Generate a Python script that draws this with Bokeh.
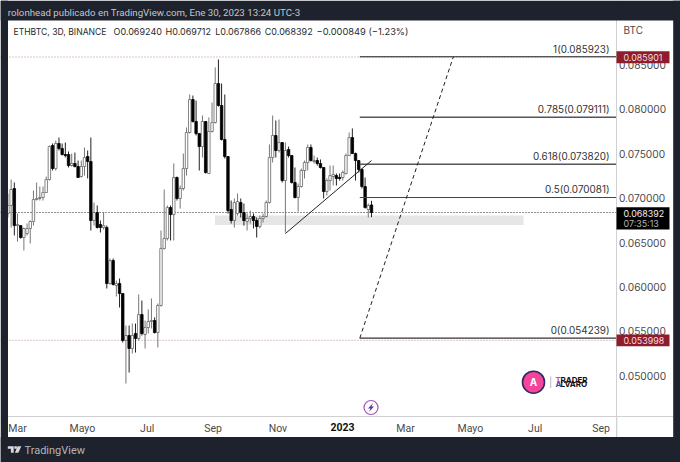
import pandas as pd
from bokeh.embed import file_html
from bokeh.resources import INLINE
from bokeh.plotting import figure
from bokeh.models import (Range1d, FixedTicker, NumeralTickFormatter, Label,
                          BoxAnnotation, PolyAnnotation)

# candle values in units of 0.00001 BTC
opens = [6828,6918,7109,6692,6692,6557,6602,6659,6738,6985,6997,7008,7064,7210,7593,7334,7616,7560,7492,7492,7368,7391,7357,7244,7357,7469,7413,6749,6839,6704,6670,6670,6039,6298,6017,6039,5927,5398,5454,5308,5476,5420,5690,5465,5544,5612,5623,5488,5792,6434,6546,6895,6816,7233,6997,7109,7334,7740,8111,7864,7728,7582,7864,7278,7751,7852,8291,8044,7661,7469,6873,6749,6828,6951,6839,6738,6771,6794,6749,6681,6771,6794,6951,7458,7706,7537,7627,7199,7548,7481,7177,7008,7132,7312,7402,7571,7413,7424,7391,7346,7075,7199,7244,7255,7233,7233,7278,7481,7683,7503,7424,7323,7132,6873,6924]
highs = [7053,7210,7177,6828,6692,6670,6715,6749,7087,7177,7132,7132,7244,7593,7616,7650,7683,7616,7627,7526,7503,7514,7424,7424,7571,7537,7683,6951,6918,6749,6839,6692,6321,6321,6073,6096,5927,5566,5566,5589,5589,5916,5848,5623,5747,5871,5657,5814,6636,7098,6918,6918,7391,7244,7143,7503,7796,8168,8156,8100,7728,7931,7864,7909,8077,8472,8562,8291,8168,7469,6974,6997,7053,6997,6940,6828,6861,6828,6783,6805,6828,6974,7605,7931,7875,7886,7627,7627,7582,7481,7346,7165,7334,7424,7605,7605,7481,7458,7436,7346,7222,7368,7368,7278,7278,7312,7503,7740,7785,7514,7424,7334,7233,6940,6971]
lows = [6783,6670,6580,6512,6546,6411,6580,6490,6692,6974,6974,6974,7064,7199,7312,7312,7537,7481,7458,7346,7357,7346,7233,7233,7255,7222,6636,6692,6659,6614,6647,5983,6028,6017,5893,5769,5375,4913,5037,5251,5262,5398,5454,5308,5476,5533,5476,5319,5780,6422,6524,6524,6524,6974,6884,7087,7255,7728,7852,7706,7312,7458,7278,7278,7740,7841,8032,7650,7447,6828,6715,6670,6805,6783,6692,6636,6715,6659,6557,6659,6726,6783,6940,7402,7458,7514,7177,6614,7458,7165,6997,6850,7120,7222,7312,7413,7391,7368,7334,6997,7030,7087,7143,7143,7199,7199,7267,7481,7503,7199,7289,7109,6884,6783,6787]
closes = [6918,7098,6692,6704,6557,6659,6659,6738,6985,6997,7008,7064,7210,7582,7334,7616,7560,7492,7481,7368,7391,7357,7233,7357,7458,7413,6749,6839,6670,6670,6692,6039,6298,6028,6039,5927,5398,5454,5308,5454,5420,5690,5476,5544,5612,5623,5488,5792,6434,6546,6895,6816,7233,6997,7109,7334,7740,8111,7864,7728,7582,7864,7289,7751,7852,8291,8044,7661,7469,6861,6749,6951,6963,6839,6749,6771,6794,6749,6681,6771,6794,6951,7458,7706,7537,7627,7199,7537,7481,7177,7008,7132,7312,7402,7571,7424,7424,7391,7346,7075,7199,7255,7267,7222,7222,7289,7481,7683,7503,7424,7323,7132,6895,6918,6839]
last_bar = "2023-01-28"

month_ticks = ["2022-03-01","2022-05-01","2022-07-01","2022-09-01","2022-11-01","2023-01-01","2023-03-01","2023-05-01","2023-07-01","2023-09-01"]
month_labels = ["Mar","Mayo","Jul","Sep","Nov","","Mar","Mayo","Jul","Sep"]
price_ticks = [0.05,0.055,0.06,0.065,0.07,0.075,0.08,0.085]

fib_levels = [0.085923,0.079111,0.073820,0.070081,0.054239]
fib_labels = ["1(0.085923)","0.785(0.079111)","0.618(0.073820)","0.5(0.070081)","0(0.054239)"]
fib_widths = [1.0,1.4,1.4,1.2,1.2]
fib_colors = ["#1a1a1a","#555555","#555555","#444444","#333333"]
last_price = 0.068392
high_mark = 0.085901
low_mark = 0.053998
zone_top, zone_bottom = 0.06805, 0.06698
trend_dates = ["2022-11-08","2023-01-28"]
trend_prices = [0.06602,0.07424]
fib_start = "2023-01-17"
target_date = "2023-04-15"

DARK = "#1e222d"
FONT = "Inter"
EPOCH = pd.Timestamp("2022-03-01")
def day(s): return (pd.Timestamp(s)-EPOCH).days

# the plot area fills the whole canvas; both axes are fixed inside it
X0, X1 = -15.996, 623.7
Y1, Y0 = 0.092262, 0.040241
def px(v): return X0+v/680*(X1-X0)
def py(v): return Y1-v/462*(Y1-Y0)
AX_X = px(616.4)
AX_Y = py(416)

p = figure(width=680, height=462, output_backend="svg", toolbar_location=None,
           x_range=Range1d(X0,X1), y_range=Range1d(Y0,Y1),
           x_axis_location="below", y_axis_location="right",
           min_border_left=0, min_border_right=0, min_border_top=0, min_border_bottom=0,
           background_fill_color="white", border_fill_color=DARK, outline_line_color=None)
p.grid.visible = False

ax = p.yaxis[0]
ax.fixed_location = AX_X
ax.ticker = FixedTicker(ticks=price_ticks)
ax.formatter = NumeralTickFormatter(format="0.000000")
ax.major_tick_line_color = None; ax.minor_tick_line_color = None
ax.major_tick_out = 0; ax.minor_tick_out = 0
ax.major_tick_in = 0; ax.minor_tick_in = 0
ax.axis_line_color = "#d1d1d3"
ax.major_label_text_color = "#4a4a4a"; ax.major_label_text_font = FONT
ax.major_label_text_font_size = "10.2px"; ax.major_label_standoff = 2

ax = p.xaxis[0]
ax.fixed_location = AX_Y
ticks = [day(t) for t in month_ticks]
ax.ticker = FixedTicker(ticks=ticks)
ax.major_label_overrides = {t:l for t,l in zip(ticks,month_labels)}
ax.major_tick_line_color = None; ax.minor_tick_line_color = None
ax.major_tick_out = 0; ax.minor_tick_out = 0
ax.major_tick_in = 0; ax.minor_tick_in = 0
ax.axis_line_color = "#d1d1d3"
ax.major_label_text_color = "#4a4a4a"; ax.major_label_text_font = "Roboto"
ax.major_label_text_font_size = "10.5px"; ax.major_label_standoff = 5

def label(x,y,text,color="#333333",size="10.5px",align="left",style="normal",font=FONT):
    p.add_layout(Label(x=x,y=y,x_units="canvas",y_units="canvas",text=text,text_color=color,text_font_size=size,text_align=align,
                       text_baseline="middle",text_font_style=style,text_font=font))
def box(l,r,t,b,color):
    p.add_layout(BoxAnnotation(left=l,right=r,top=t,bottom=b,left_units="canvas",right_units="canvas",top_units="canvas",bottom_units="canvas",
                               fill_color=color,fill_alpha=1,line_alpha=0,level="annotation"))
def poly(xs,ys,color):
    p.add_layout(PolyAnnotation(xs=xs,ys=ys,xs_units="canvas",ys_units="canvas",fill_color=color,fill_alpha=1,
                                line_alpha=0,level="annotation"))

# zone behind the candles
p.quad(left=[px(214.5)],right=[px(523)],top=[zone_top],bottom=[zone_bottom],fill_color="#e6e6e6",line_alpha=0,level="underlay")

# price lines
for lv,c in ((high_mark,"#b98a92"),(low_mark,"#b98a92"),(last_price,"#222222")):
    p.line([X0,AX_X],[lv,lv],line_color=c,line_dash="1 2",line_width=1,level="underlay")

# candles
dates = pd.date_range(end=last_bar,periods=len(opens),freq="3D")
xs = [(d-EPOCH).days for d in dates]
up = [i for i in range(len(xs)) if closes[i]>=opens[i]]
dn = [i for i in range(len(xs)) if closes[i]<opens[i]]
for idx,wick,fill,edge in ((up,"#777777","white","#666666"),(dn,"#222222","black","black")):
    X=[xs[i] for i in idx]
    O=[opens[i]/1e5 for i in idx]; C=[closes[i]/1e5 for i in idx]
    H=[highs[i]/1e5 for i in idx]; L=[lows[i]/1e5 for i in idx]
    p.segment(X,H,X,L,line_color=wick,line_width=1)
    p.vbar(x=X,width=2.3,top=[max(a,b) for a,b in zip(O,C)],bottom=[min(a,b) for a,b in zip(O,C)],
           fill_color=fill,line_color=edge,line_width=0.8)

# drawings
for lv,w,c in zip(fib_levels,fib_widths,fib_colors):
    p.line([day(fib_start),AX_X],[lv,lv],line_color=c,line_width=w)
p.line([day(t) for t in trend_dates],trend_prices,line_color="#222222",line_width=1)
p.line([day(fib_start),day(target_date)],[fib_levels[4],fib_levels[0]],line_color="#222222",line_width=1,line_dash="4 3")

for lv,t in zip(fib_levels,fib_labels):
    p.add_layout(Label(x=px(609),y=lv,y_offset=8,text=t,text_color="#333333",text_font=FONT,
                       text_font_size="9.9px",text_align="right",text_baseline="middle"))

# frame of the screenshot
box(0,680,0,20,DARK)
box(0,680,436.5,462,DARK)
box(0,7.5,0,462,DARK)
box(672.7,680,0,462,DARK)
box(616,616.8,416,436.5,"#d1d1d3")

# texts round the plot
label(7.3,11.5,"rolonhead publicado en TradingView.com, Ene 30, 2023 13:24 UTC-3",color="#c4c6cc",size="9.7px",font="Roboto")
label(13,31,"ETHBTC, 3D, BINANCE",color="#2a2a2a",size="8.6px")
label(113,31,"O0.069240",color="#2a2a2a",size="9px")
label(165,31,"H0.069712",color="#2a2a2a",size="9px")
label(214.7,31,"L0.067866",color="#2a2a2a",size="9px")
label(264.3,31,"C0.068392",color="#2a2a2a",size="9px")
label(316,31,"−0.000849 (−1.23%)",color="#2a2a2a",size="9.3px")
label(623,29.5,"BTC",color="#4a4a4a",size="10px")
label(342,426.7,"2023",color="#111111",align="center",style="bold",font="Roboto")

# price tags
box(616,669,50.7,62.7,"#8e1c2a"); label(623,57,"0.085901",color="#f2dfe1",size="8.9px")
box(616,669,334,345.7,"#8e1c2a"); label(623,340,"0.053998",color="#f2dfe1",size="8.9px")
box(616,669,206.7,229,"#000000")
label(623,212.5,"0.068392",color="#f0f0f0",size="8.9px"); label(623,222.5,"07:35:13",color="#b5b5b5",size="8.9px")

# TradingView logo
poly([7.3,13.2,13.2,10.4,10.4,7.3],[445.7,445.7,452.3,452.3,448.3,448.3],"#d9dae0")
poly([13.8,16.4,16.4,13.8],[445.7,445.7,448.3,448.3],"#d9dae0")
poly([17.2,20.8,17.8,14.4],[445.7,445.7,452.3,452.3],"#d9dae0")
label(24,449.7,"TradingView",color="#b2b5be",size="11px",font="Roboto")

# lightning badge
p.scatter([px(370.5)],[py(407)],size=14,marker="circle",fill_color="white",line_color="#a055b8",line_width=1.2)
poly([372.5,367.5,370,368.5,373.5,371],[402.5,408,408,411.5,406,406],"#5a3a90")

# watermark
p.scatter([px(533)],[py(381.7)],size=22,marker="circle",fill_color="#f5459b",line_color="#2c2a66",line_width=1.6)
label(533,381.5,"A",color="white",align="center",size="10px",style="bold")
box(549.7,550.7,376,387.5,"#b8b8c0")
label(555,379,"T",color="#e8479a",size="8px",style="bold")
label(560,379,"RADER",color="#111111",size="8px",style="bold")
label(555,383.5,"A",color="#3f45c0",size="8px",style="bold")
label(560,383.5,"LVARO",color="#111111",size="8px",style="bold")

open("out.html","w").write(file_html(p, INLINE))
